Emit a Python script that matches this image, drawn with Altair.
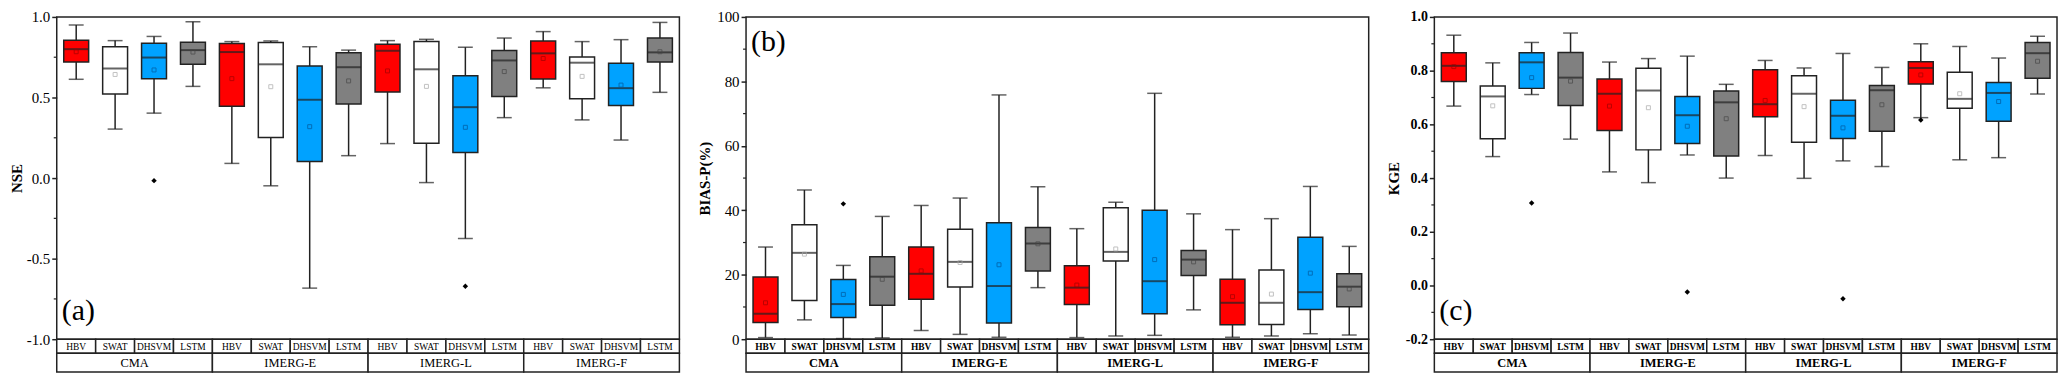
import altair as alt
import pandas as pd

groups = ["CMA", "IMERG-E", "IMERG-L", "IMERG-F"]
models = ["HBV", "SWAT", "DHSVM", "LSTM"]
keys = [f"{g}|{m}" for g in groups for m in models]

fills = ["#FF0000", "#FFFFFF", "#00A2FF", "#808080"]
mean_cols = ["#9E0000", "#A8A8A8", "#00579A", "#474747"]
DARK = "#222222"
FONT = "Liberation Serif, Times New Roman, serif"

# ---- (a) NSE ----
nse_low = [0.613, 0.304, 0.403, 0.569, 0.091, -0.048, -0.683, 0.139, 0.214, -0.028, -0.375, 0.375, 0.560, 0.361, 0.236, 0.532]
nse_q1 = [0.720, 0.522, 0.617, 0.706, 0.446, 0.252, 0.103, 0.460, 0.534, 0.216, 0.159, 0.506, 0.615, 0.492, 0.450, 0.720]
nse_med = [0.800, 0.680, 0.748, 0.794, 0.782, 0.706, 0.486, 0.688, 0.790, 0.675, 0.440, 0.730, 0.774, 0.716, 0.558, 0.780]
nse_q3 = [0.855, 0.815, 0.837, 0.843, 0.835, 0.841, 0.696, 0.778, 0.831, 0.847, 0.635, 0.792, 0.851, 0.752, 0.712, 0.869]
nse_high = [0.950, 0.853, 0.879, 0.970, 0.847, 0.851, 0.815, 0.794, 0.853, 0.861, 0.812, 0.869, 0.909, 0.847, 0.859, 0.966]
nse_mean = [0.784, 0.643, 0.671, 0.782, 0.617, 0.567, 0.319, 0.603, 0.665, 0.569, 0.315, 0.661, 0.742, 0.631, 0.577, 0.784]
nse_out_keys = ["CMA|DHSVM", "IMERG-L|DHSVM"]
nse_out_vals = [-0.016, -0.671]

# ---- (b) BIAS-P ----
bias_low = [0.5, 6.0, 0.2, 0.4, 2.7, 1.5, 0.6, 16.0, 0.5, 1.0, 1.2, 9.1, 0.6, 1.0, 1.7, 1.3]
bias_q1 = [5.2, 12.0, 6.7, 10.5, 12.4, 16.2, 5.0, 21.2, 10.8, 24.3, 7.9, 19.8, 4.5, 4.6, 9.2, 10.1]
bias_med = [7.9, 26.8, 10.9, 19.4, 20.3, 24.0, 16.5, 29.7, 16.0, 27.1, 18.0, 24.7, 11.3, 11.3, 14.6, 16.3]
bias_q3 = [19.3, 35.5, 18.5, 25.6, 28.6, 34.1, 36.1, 34.7, 22.8, 40.8, 40.0, 27.5, 18.6, 21.5, 31.6, 20.3]
bias_high = [28.6, 46.3, 22.9, 38.1, 41.5, 43.8, 75.8, 47.3, 34.3, 42.5, 76.3, 38.9, 34.0, 37.4, 47.4, 28.8]
bias_mean = [11.3, 26.4, 13.9, 18.6, 21.2, 23.8, 23.1, 29.6, 16.8, 28.0, 24.7, 24.0, 13.2, 14.0, 20.5, 15.6]
bias_out_keys = ["CMA|DHSVM"]
bias_out_vals = [42.0]

# ---- (c) KGE ----
kge_low = [0.668, 0.480, 0.711, 0.545, 0.423, 0.383, 0.486, 0.400, 0.484, 0.399, 0.464, 0.443, 0.625, 0.468, 0.476, 0.713]
kge_q1 = [0.760, 0.546, 0.734, 0.670, 0.577, 0.505, 0.529, 0.482, 0.628, 0.533, 0.547, 0.574, 0.750, 0.660, 0.612, 0.772]
kge_med = [0.818, 0.704, 0.831, 0.774, 0.714, 0.726, 0.634, 0.682, 0.675, 0.714, 0.632, 0.727, 0.810, 0.695, 0.717, 0.865]
kge_q3 = [0.867, 0.743, 0.867, 0.868, 0.769, 0.809, 0.704, 0.724, 0.803, 0.781, 0.690, 0.745, 0.833, 0.794, 0.756, 0.905]
kge_high = [0.932, 0.829, 0.905, 0.940, 0.832, 0.845, 0.854, 0.749, 0.838, 0.810, 0.864, 0.812, 0.900, 0.890, 0.847, 0.928]
kge_mean = [0.815, 0.669, 0.774, 0.761, 0.668, 0.662, 0.593, 0.621, 0.689, 0.666, 0.587, 0.673, 0.784, 0.714, 0.685, 0.835]
kge_out_keys = ["CMA|DHSVM", "IMERG-E|DHSVM", "IMERG-L|DHSVM", "IMERG-F|HBV"]
kge_out_vals = [0.307, -0.024, -0.049, 0.616]

W = 626
H = 324
R1 = 14
R2 = 19


def panel(low, q1, med, q3, high, mean, out_keys, out_vals, domain, major, minor,
          title, tag, tag_y, fmt, tick_bold, cell_bold, title_pad):
    df = pd.DataFrame({
        "key": keys,
        "group": [g for g in groups for _ in models],
        "model": models * 4,
        "low": low, "q1": q1, "med": med, "q3": q3, "high": high, "mean": mean,
    })
    odf = pd.DataFrame({"key": out_keys, "v": out_vals})
    mdf = pd.DataFrame({"v": minor})
    gdf = pd.DataFrame({"group": groups})
    tdf = pd.DataFrame({"t": [tag]})

    xs = alt.Scale(domain=keys, paddingInner=0, paddingOuter=0)
    x = alt.X("key:N", scale=xs, axis=None)
    ys = alt.Scale(domain=domain, nice=False, zero=False)
    label_expr = f"replace(format(datum.value, '{fmt}'), '\u2212', '-')"
    yaxis = alt.Axis(values=major, labelExpr=label_expr, title=title, grid=False,
                     domain=False, tickSize=5, tickWidth=1.5, tickColor=DARK,
                     labelFont=FONT, titleFont=FONT,
                     labelFontSize=15 if not tick_bold else 14,
                     labelFontWeight="bold" if tick_bold else "normal",
                     labelColor="black", labelPadding=2,
                     titleFontSize=15, titleFontWeight="bold", titleColor="black",
                     titlePadding=title_pad)

    base = alt.Chart(df)
    whisk = base.mark_rule(color=DARK, strokeWidth=1.5).encode(
        x=x, y=alt.Y("low:Q", scale=ys, axis=yaxis), y2="high:Q")
    cap_lo = base.mark_tick(color=DARK, size=15, thickness=1.5).encode(x=x, y=alt.Y("low:Q", scale=ys))
    cap_hi = base.mark_tick(color=DARK, size=15, thickness=1.5).encode(x=x, y=alt.Y("high:Q", scale=ys))
    box = base.mark_bar(width={"band": 0.64}, stroke=DARK, strokeWidth=1.5).encode(
        x=x, y=alt.Y("q1:Q", scale=ys), y2="q3:Q",
        fill=alt.Fill("model:N", scale=alt.Scale(domain=models, range=fills), legend=None))
    medt = base.mark_tick(color=DARK, size=25, thickness=2).encode(x=x, y=alt.Y("med:Q", scale=ys))
    meanp = base.mark_point(shape="square", filled=False, size=16, strokeWidth=1).encode(
        x=x, y=alt.Y("mean:Q", scale=ys),
        stroke=alt.Stroke("model:N", scale=alt.Scale(domain=models, range=mean_cols), legend=None))
    outp = alt.Chart(odf).mark_point(shape="diamond", filled=True, color="black", size=30, opacity=1).encode(
        x=alt.X("key:N", scale=xs, axis=None), y=alt.Y("v:Q", scale=ys))
    minor_t = alt.Chart(mdf).mark_rule(color=DARK, strokeWidth=1.2).encode(
        x=alt.value(-3), x2=alt.value(0), y=alt.Y("v:Q", scale=ys))
    tagt = alt.Chart(tdf).mark_text(font=FONT, fontSize=30, align="left", baseline="middle", color="black").encode(
        text="t:N", x=alt.value(5), y=alt.value(tag_y))

    cw = "bold" if cell_bold else "normal"
    row1 = base.mark_rect(fill="white", stroke=DARK, strokeWidth=1.5).encode(
        x=x, y=alt.value(H), y2=alt.value(H + R1))
    row1t = base.mark_text(font=FONT, fontSize=9.5, fontWeight=cw, color="black", baseline="middle").encode(
        x=x, y=alt.value(H + R1 / 2 + 0.5), text="model:N")
    gx = alt.X("group:N", scale=alt.Scale(domain=groups, paddingInner=0, paddingOuter=0), axis=None)
    row2 = alt.Chart(gdf).mark_rect(fill="white", stroke=DARK, strokeWidth=1.5).encode(
        x=gx, y=alt.value(H + R1), y2=alt.value(H + R1 + R2))
    row2t = alt.Chart(gdf).mark_text(font=FONT, fontSize=12.5, fontWeight=cw, color="black", baseline="middle").encode(
        x=gx, y=alt.value(H + R1 + R2 / 2 + 0.5), text="group:N")

    return alt.layer(whisk, cap_lo, cap_hi, box, medt, meanp, outp, minor_t, tagt,
                     row1, row1t, row2, row2t).resolve_scale(x="independent").properties(width=W, height=H)


pa = panel(nse_low, nse_q1, nse_med, nse_q3, nse_high, nse_mean, nse_out_keys, nse_out_vals,
           [-1.0, 1.0], [-1.0, -0.5, 0.0, 0.5, 1.0], [-0.75, -0.25, 0.25, 0.75],
           "NSE", "(a)", 296, ".1f", False, False, 2)
pb = panel(bias_low, bias_q1, bias_med, bias_q3, bias_high, bias_mean, bias_out_keys, bias_out_vals,
           [0, 100], [0, 20, 40, 60, 80, 100], [10, 30, 50, 70, 90],
           "BIAS-P(%)", "(b)", 25, "d", False, True, 4)
pc = panel(kge_low, kge_q1, kge_med, kge_q3, kge_high, kge_mean, kge_out_keys, kge_out_vals,
           [-0.2, 1.0], [-0.2, 0.0, 0.2, 0.4, 0.6, 0.8, 1.0], [-0.1, 0.1, 0.3, 0.5, 0.7, 0.9],
           "KGE", "(c)", 296, ".1f", True, True, 4)

chart = alt.hconcat(pa, pb, pc, spacing=15).properties(padding=0).configure(
    font=FONT).configure_view(stroke=DARK, strokeWidth=1.5)

chart.save("out.html", embed_options={"renderer": "svg", "actions": False})
